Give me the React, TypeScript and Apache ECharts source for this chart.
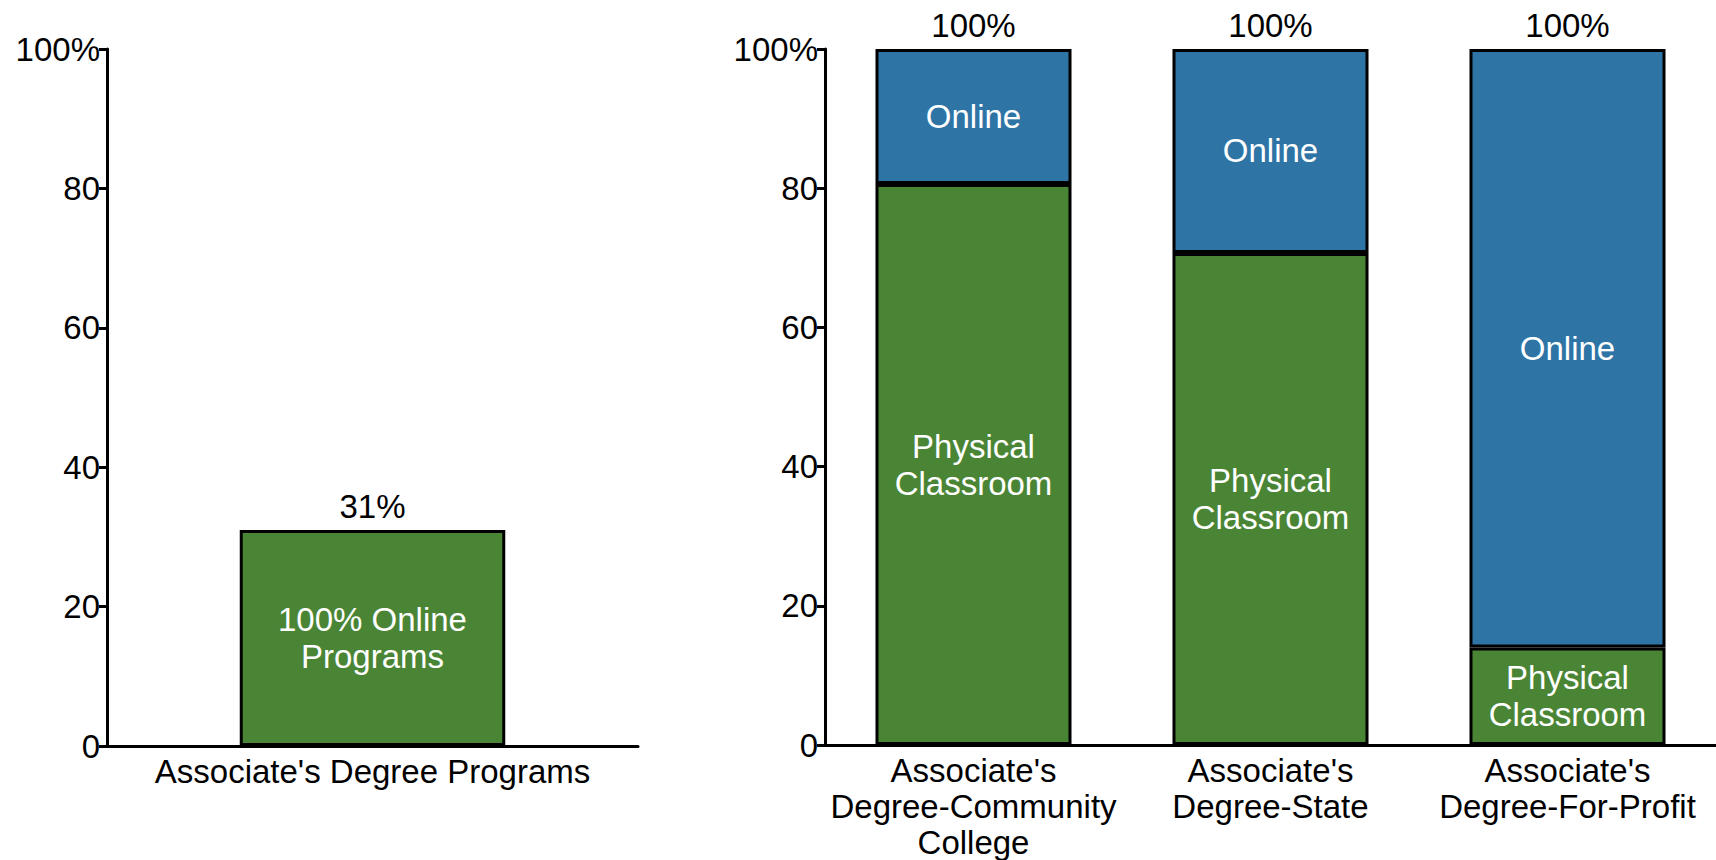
import React, { useEffect, useRef } from "react";
import * as echarts from "echarts";

// Share of associate's degree programs offered 100% online
const programCategories = ["Associate's Degree Programs"];
const fullyOnlineShare = [31];

// Enrollment split by institution type (percent)
const sectorCategories = [
  "Associate's\nDegree-Community\nCollege",
  "Associate's\nDegree-State",
  "Associate's\nDegree-For-Profit",
];
const physicalClassroomShare = [80.6, 70.7, 14.0];
const onlineShare = [19.4, 29.3, 86.0];

const yTickValues = [0, 20, 40, 60, 80, 100];

const GREEN = "#4a8535";
const BLUE = "#2e75a6";
const FONT = "'Liberation Sans', Arial, Helvetica, sans-serif";
const FS = 33;

const sectorTotals = physicalClassroomShare.map((v, i) => +(v + onlineShare[i]).toFixed(1));

function yAxisFor(gridIndex: number) {
  return {
    type: "value",
    gridIndex,
    min: yTickValues[0],
    max: yTickValues[yTickValues.length - 1],
    interval: yTickValues[1] - yTickValues[0],
    axisLine: { show: true, lineStyle: { color: "#000", width: 3 } },
    axisTick: { show: true, length: 8, lineStyle: { color: "#000", width: 3 } },
    splitLine: { show: false },
    axisLabel: {
      margin: 7,
      color: "#000",
      fontSize: FS,
      fontFamily: FONT,
      formatter: (v: number) => (v === 100 ? "100%" : String(v)),
    },
  };
}

function xAxisFor(gridIndex: number, data: string[]) {
  return {
    type: "category",
    gridIndex,
    data,
    axisLine: { show: true, lineStyle: { color: "#000", width: 3 } },
    axisTick: { show: false },
    axisLabel: {
      margin: 7,
      interval: 0,
      color: "#000",
      fontSize: FS,
      fontFamily: FONT,
      lineHeight: 36,
    },
  };
}

const insideLabel = (text: string) => ({
  show: true,
  position: "inside",
  color: "#fff",
  fontSize: FS,
  fontFamily: FONT,
  lineHeight: 37,
  formatter: text,
});

const topLabel = {
  show: true,
  position: "top",
  distance: 7,
  color: "#000",
  fontSize: FS,
  fontFamily: FONT,
  formatter: (p: any) => `${Math.round(p.value)}%`,
};

const barStyle = (color: string) => ({ color, borderColor: "#000", borderWidth: 3 });

export default function App() {
  const ref = useRef<HTMLDivElement>(null);

  useEffect(() => {
    if (!ref.current) return;
    const chart = echarts.init(ref.current, null, { renderer: "svg" });
    chart.setOption({
      animation: false,
      backgroundColor: "#fff",
      grid: [
        { left: 107, top: 49, width: 531, height: 697 },
        { left: 825, top: 49, width: 891, height: 697 },
      ],
      xAxis: [xAxisFor(0, programCategories), xAxisFor(1, sectorCategories)],
      yAxis: [yAxisFor(0), yAxisFor(1)],
      series: [
        {
          name: "100% Online Programs",
          type: "bar",
          xAxisIndex: 0,
          yAxisIndex: 0,
          data: fullyOnlineShare,
          barWidth: "50%",
          barGap: "-100%",
          itemStyle: barStyle(GREEN),
          label: insideLabel("100% Online\nPrograms"),
        },
        {
          name: "Program share",
          type: "bar",
          xAxisIndex: 0,
          yAxisIndex: 0,
          data: fullyOnlineShare,
          barWidth: "50%",
          barGap: "-100%",
          itemStyle: { color: "rgba(0,0,0,0)", borderWidth: 0 },
          label: topLabel,
          silent: true,
        },
        {
          name: "Physical Classroom",
          type: "bar",
          stack: "mode",
          xAxisIndex: 1,
          yAxisIndex: 1,
          data: physicalClassroomShare,
          barWidth: "66%",
          barGap: "-100%",
          itemStyle: barStyle(GREEN),
          label: insideLabel("Physical\nClassroom"),
        },
        {
          name: "Online",
          type: "bar",
          stack: "mode",
          xAxisIndex: 1,
          yAxisIndex: 1,
          data: onlineShare,
          barWidth: "66%",
          barGap: "-100%",
          itemStyle: barStyle(BLUE),
          label: insideLabel("Online"),
        },
        {
          name: "Total",
          type: "bar",
          xAxisIndex: 1,
          yAxisIndex: 1,
          data: sectorTotals,
          barWidth: "66%",
          barGap: "-100%",
          z: 1,
          itemStyle: { color: "rgba(0,0,0,0)", borderWidth: 0 },
          label: topLabel,
          silent: true,
        },
      ],
    });
    return () => chart.dispose();
  }, []);

  return (
    <div
      ref={ref}
      style={{ position: "absolute", left: 0, top: 0, width: 1716, height: 860, background: "#fff" }}
    />
  );
}
